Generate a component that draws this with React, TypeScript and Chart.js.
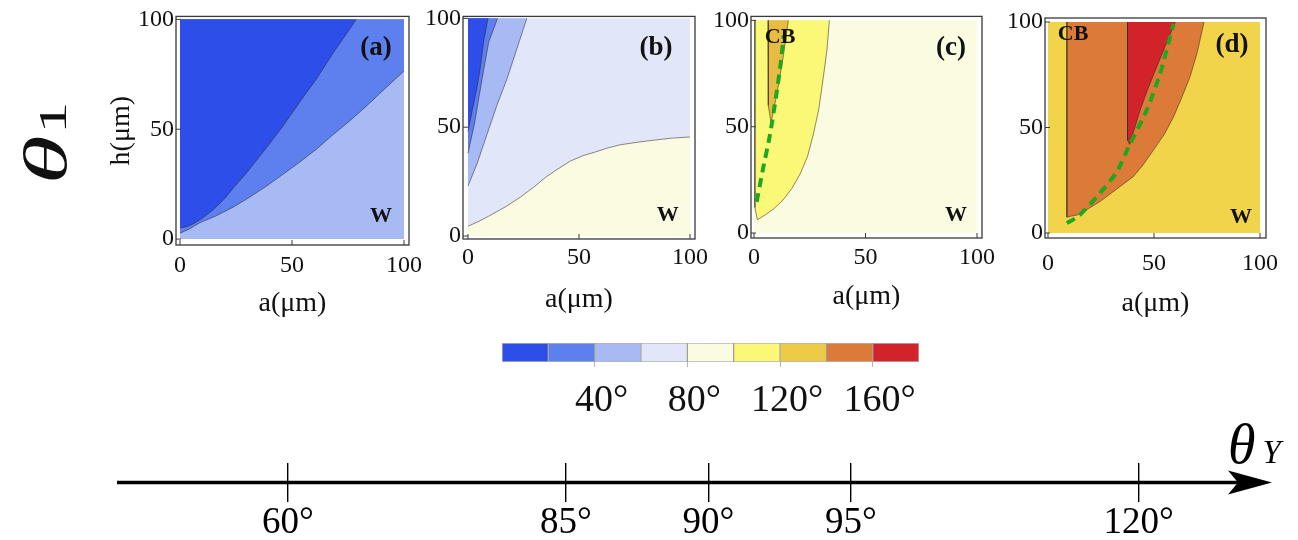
import React, { useEffect, useRef } from 'react';
import { Chart, registerables } from 'chart.js';

Chart.register(...registerables);

const SERIF = '"Liberation Serif", "DejaVu Serif", serif';

// ---------- data ----------
const binEdges = [0, 20, 40, 60, 80, 100, 120, 140, 160, 180];
const binColors = ['#2d4ee9', '#5e7fee', '#a8baf4', '#e1e7f9', '#fafbe0', '#fcf877', '#eecb47', '#dc7a38', '#d2232b'];
const colorbarTicks = [40, 80, 120, 160];
const panelTicks = [0, 50, 100];

type Pt = [number, number];

// panel (a): contour boundaries (a in µm, h in µm)
const aEdge20: Pt[] = [[0, 5.2], [3, 5.6], [6, 7], [10, 9.5], [15, 13.5], [20, 18.5], [24, 23.5], [30, 30.5], [38.5, 41.4], [46, 51.5], [53.4, 62.3], [61, 73], [68.3, 84.6], [74, 93], [78.7, 100]];
const aEdge40: Pt[] = [[0, 2.7], [4, 4.5], [9, 7.5], [16, 10.5], [23.7, 14.5], [31, 19], [38.5, 24], [46, 29.5], [53.4, 35], [61, 41], [68.3, 47.5], [76, 54], [83.2, 60.5], [91, 68], [100, 76.5]];
// panel (b)
const bEdge20: Pt[] = [[0, 48], [2, 58], [4, 68], [5.5, 77], [7, 89], [9, 100]];
const bEdge40: Pt[] = [[0, 38], [3, 52], [4.8, 63], [7, 76], [9.3, 89], [13.3, 100]];
const bEdge60: Pt[] = [[0, 23], [4, 33], [8.5, 46.5], [13, 60], [17.5, 72], [22, 86], [26.5, 100]];
const bEdge80: Pt[] = [[0, 4.5], [5, 6.8], [10, 9.5], [17, 13.5], [23.5, 17.8], [30, 22.8], [35, 27], [40, 30.5], [46, 34.4], [52, 37], [57, 38.5], [63, 40.5], [68.5, 41.9], [77, 43.2], [85, 44.2], [92, 45], [100, 45.5]];
// panel (c)
const cEdge100: Pt[] = [[0.4, 100], [0.4, 12], [1.5, 6.2], [5, 8.5], [9, 11.5], [13, 15.5], [17, 21], [20.7, 27.8], [24, 36], [26.6, 46.4], [29, 58], [31, 72.6], [32.7, 86], [33.8, 100]];
const cEdge120: Pt[] = [[6.3, 100], [6.4, 60], [7.6, 51.8], [10.2, 65], [13.2, 83.5], [15.4, 100]];
const cTransition: Pt[] = [[1.2, 14.7], [4, 30], [7.2, 46.4], [10, 65], [12, 80], [13.3, 93]];
// panel (d)
const dEdge140: Pt[] = [[8.9, 100], [8.9, 7.5], [11, 8], [13.7, 8.5], [19, 11.5], [24.6, 15], [32, 20.5], [40.3, 26.8], [45, 32.5], [49.8, 39.4], [55, 47], [59.2, 55], [63, 64], [67, 74], [70.5, 86], [73.6, 100]];
const dEdge160: Pt[] = [[37.5, 100], [37.5, 44], [38.5, 42], [43.5, 58.3], [47, 68], [51.3, 78.7], [55.5, 89], [60, 100]];
const dTransition: Pt[] = [[8.9, 4.7], [14.4, 8], [24.6, 19], [32.5, 29], [38.8, 42.5], [46.6, 58.3], [52.9, 75.6], [59.2, 99.2]];

// bottom θ_Y axis (schematic, non-linear): tick slots and labels
const thetaSlots = [0, 1.95, 2.95, 3.95, 5.97];
const thetaLabels = ['60°', '85°', '90°', '95°', '120°'];

// ---------- helpers ----------
const EDGE = 'rgba(45,40,40,0.6)';
const C_INNER = '#e8bb45';
const D_BACK = '#f1d44a';

function region(pts: Pt[], color: string, fillTo: number, edge = true) {
  return {
    data: pts.map(([x, y]) => ({ x, y })),
    fill: { value: fillTo },
    backgroundColor: color,
    borderColor: edge ? EDGE : 'rgba(0,0,0,0)',
    borderWidth: edge ? 0.9 : 0,
    pointRadius: 0,
    tension: 0,
  };
}
function background(color: string) {
  return region([[0, 100], [100, 100]], color, 0, false);
}
function dashed(pts: Pt[]) {
  return {
    data: pts.map(([x, y]) => ({ x, y })),
    fill: false,
    borderColor: '#1fa81f',
    borderWidth: 4,
    borderDash: [9, 6],
    pointRadius: 0,
    tension: 0.2,
  };
}

type TextItem = { text: string; x: number; y: number; size: number };

function framePlugin(items: TextItem[]) {
  return {
    id: 'frameAndText',
    afterDatasetsDraw(chart: any) {
      const { ctx, chartArea: a, scales } = chart;
      ctx.save();
      ctx.strokeStyle = '#3a3a3a';
      ctx.lineWidth = 1.3;
      ctx.strokeRect(a.left, a.top, a.right - a.left, a.bottom - a.top);
      ctx.lineWidth = 1;
      for (const v of panelTicks) {
        const px = scales.x.getPixelForValue(v);
        const py = scales.y.getPixelForValue(v);
        ctx.beginPath();
        ctx.moveTo(px, a.bottom);
        ctx.lineTo(px, a.bottom - 5);
        ctx.moveTo(a.left, py);
        ctx.lineTo(a.left + 5, py);
        ctx.stroke();
      }
      ctx.fillStyle = '#111';
      ctx.textAlign = 'center';
      ctx.textBaseline = 'middle';
      for (const t of items) {
        ctx.font = `bold ${t.size}px ${SERIF}`;
        ctx.fillText(t.text, scales.x.getPixelForValue(t.x), scales.y.getPixelForValue(t.y));
      }
      ctx.restore();
    },
  };
}

type PanelSpec = {
  canvasLeft: number; frameL: number; frameR: number; frameT: number; frameB: number;
  x: [number, number]; y: [number, number]; yTitle: boolean; titleY: number; tickY: number;
  datasets: any[]; texts: TextItem[];
};

const CANVAS_H = 330;

function panelConfig(p: PanelSpec): any {
  const tickFont = { family: SERIF, size: 24, lineHeight: 1.2 };
  const titleFont = { family: SERIF, size: 28, lineHeight: 1.2 };
  return {
    type: 'line',
    data: { datasets: p.datasets },
    options: {
      animation: false,
      responsive: false,
      events: [],
      layout: { padding: { left: 0, top: p.frameT, right: 30, bottom: 0 } },
      plugins: { legend: { display: false }, tooltip: { enabled: false } },
      scales: {
        x: {
          type: 'linear', min: p.x[0], max: p.x[1],
          grid: { display: false, drawTicks: false }, border: { display: false },
          ticks: { font: tickFont, color: '#111', padding: p.tickY - p.frameB - 14.4, autoSkip: false, maxRotation: 0 },
          afterBuildTicks: (s: any) => { s.ticks = panelTicks.map(v => ({ value: v })); },
          afterFit: (s: any) => { s.height = CANVAS_H - p.frameB; },
          title: { display: true, text: 'a(μm)', font: titleFont, color: '#111', padding: { top: 0, bottom: CANVAS_H - p.titleY - 16.8 } },
        },
        y: {
          type: 'linear', min: p.y[0], max: p.y[1],
          grid: { display: false, drawTicks: false }, border: { display: false },
          ticks: { font: tickFont, color: '#111', padding: 2, autoSkip: false },
          afterBuildTicks: (s: any) => { s.ticks = panelTicks.map(v => ({ value: v })); },
          afterFit: (s: any) => { s.width = p.frameL - p.canvasLeft; },
          title: p.yTitle
            ? { display: true, text: 'h(μm)', font: titleFont, color: '#111', padding: { top: 122 - p.canvasLeft - 16.8, bottom: 0 } }
            : { display: false },
        },
      },
    },
    plugins: [framePlugin(p.texts)],
  };
}

const panels: PanelSpec[] = [
  {
    canvasLeft: 95, frameL: 176, frameR: 409, frameT: 13, frameB: 245, x: [-1.79, 102.23], y: [-2.69, 101.35], yTitle: true, titleY: 304, tickY: 266,
    datasets: [region(aEdge20, binColors[0], 100), region(aEdge40, binColors[1], 100), background(binColors[2])],
    texts: [{ text: '(a)', x: 87.5, y: 87, size: 27 }, { text: 'W', x: 89.7, y: 10.3, size: 22 }],
  },
  {
    canvasLeft: 413, frameL: 463, frameR: 695, frameT: 13, frameB: 239, x: [-2.25, 102.25], y: [-1.36, 100.9], yTitle: false, titleY: 300, tickY: 258,
    datasets: [region(bEdge20, binColors[0], 100), region(bEdge40, binColors[1], 100), region(bEdge60, binColors[2], 100), region(bEdge80, binColors[4], 0), background(binColors[3])],
    texts: [{ text: '(b)', x: 84.7, y: 86.4, size: 27 }, { text: 'W', x: 90, y: 9.5, size: 22 }],
  },
  {
    canvasLeft: 701, frameL: 751, frameR: 982, frameT: 14, frameB: 238, x: [-1.35, 102.24], y: [-2.33, 101.86], yTitle: false, titleY: 297, tickY: 258,
    datasets: [dashed(cTransition), region(cEdge120, C_INNER, 100), region(cEdge100, binColors[5], 100), background(binColors[4])],
    texts: [{ text: '(c)', x: 88.3, y: 87, size: 27 }, { text: 'W', x: 90.6, y: 8.4, size: 22 }, { text: 'CB', x: 11.7, y: 92, size: 22 }],
  },
  {
    canvasLeft: 995, frameL: 1045, frameR: 1266, frameT: 18, frameB: 238, x: [-1.42, 102.83], y: [-2.37, 101.9], yTitle: false, titleY: 304, tickY: 264,
    datasets: [dashed(dTransition), region(dEdge160, binColors[8], 100), region(dEdge140, binColors[7], 100), background(D_BACK)],
    texts: [{ text: '(d)', x: 86.8, y: 89, size: 27 }, { text: 'W', x: 91, y: 7.6, size: 22 }, { text: 'CB', x: 11.8, y: 94, size: 22 }],
  },
];

function colorbarConfig(): any {
  return {
    type: 'bar',
    data: {
      labels: ['cb'],
      datasets: [{
        data: binColors.map((_, i) => ({ x: [binEdges[i], binEdges[i + 1]], y: 'cb' })),
        backgroundColor: binColors,
        borderColor: 'rgba(40,40,40,0.35)',
        borderWidth: 1,
        borderSkipped: false,
        barPercentage: 1,
        categoryPercentage: 1,
      }],
    },
    options: {
      indexAxis: 'y',
      animation: false,
      responsive: false,
      events: [],
      layout: { padding: { left: 32, right: 41, top: 13, bottom: 0 } },
      plugins: { legend: { display: false }, tooltip: { enabled: false } },
      scales: {
        x: {
          type: 'linear', min: binEdges[0], max: binEdges[binEdges.length - 1],
          grid: { display: true, drawOnChartArea: false, drawTicks: true, tickLength: 5, color: '#b5b5b5' },
          border: { display: false },
          ticks: { font: { family: SERIF, size: 38, lineHeight: 1.2 }, color: '#111', padding: 11, labelOffset: 7, autoSkip: false, maxRotation: 0, callback: (v: number) => `${v}°` },
          afterBuildTicks: (s: any) => { s.ticks = colorbarTicks.map(v => ({ value: v })); },
          afterFit: (s: any) => { s.height = 78; },
        },
        y: { type: 'category', display: false },
      },
    },
  };
}

const arrowPlugin = {
  id: 'thetaArrow',
  afterDraw(chart: any) {
    const { ctx, chartArea: a } = chart;
    const y = (a.top + a.bottom) / 2;
    ctx.save();
    ctx.strokeStyle = '#000';
    ctx.fillStyle = '#000';
    ctx.lineWidth = 3.5;
    ctx.beginPath();
    ctx.moveTo(a.left, y);
    ctx.lineTo(a.right - 20, y);
    ctx.stroke();
    ctx.beginPath();
    ctx.moveTo(a.right, y);
    ctx.lineTo(a.right - 44, y - 12);
    ctx.lineTo(a.right - 34, y);
    ctx.lineTo(a.right - 44, y + 12);
    ctx.closePath();
    ctx.fill();
    ctx.restore();
  },
};

function thetaConfig(): any {
  return {
    type: 'scatter',
    data: { datasets: [] },
    options: {
      animation: false,
      responsive: false,
      events: [],
      layout: { padding: { left: 117, right: 26, top: 43, bottom: 0 } },
      plugins: { legend: { display: false }, tooltip: { enabled: false } },
      scales: {
        x: {
          type: 'linear', min: -1.2, max: 6.905,
          grid: { display: true, drawOnChartArea: true, drawTicks: false, color: '#000', lineWidth: 1.4 },
          border: { display: false },
          ticks: { font: { family: SERIF, size: 37, lineHeight: 1.0 }, color: '#000', padding: 3, autoSkip: false, maxRotation: 0, callback: (_v: number, i: number) => thetaLabels[i] },
          afterBuildTicks: (s: any) => { s.ticks = thetaSlots.map(v => ({ value: v })); },
          afterFit: (s: any) => { s.height = 38; },
        },
        y: { type: 'linear', display: false, min: -1, max: 1 },
      },
    },
    plugins: [arrowPlugin],
  };
}

function ChartBox({ left, top, width, height, build }: { left: number; top: number; width: number; height: number; build: () => any }) {
  const ref = useRef<HTMLCanvasElement>(null);
  useEffect(() => {
    const chart = new Chart(ref.current as HTMLCanvasElement, build());
    return () => chart.destroy();
  }, []);
  return <canvas ref={ref} width={width} height={height} style={{ position: 'absolute', left, top, width, height }} />;
}

export default function App() {
  return (
    <div style={{ position: 'absolute', left: 0, top: 0, width: 1298, height: 540, background: '#fff', overflow: 'hidden' }}>
      {panels.map((p, i) => (
        <ChartBox key={i} left={p.canvasLeft} top={0} width={p.frameR + 30 - p.canvasLeft} height={CANVAS_H} build={() => panelConfig(p)} />
      ))}
      <ChartBox left={470} top={330} width={490} height={110} build={colorbarConfig} />
      <ChartBox left={0} top={420} width={1298} height={120} build={thetaConfig} />
      <div style={{ position: 'absolute', left: 45, top: 143, transform: 'translate(-50%,-50%) rotate(-90deg) scaleX(1.6)', whiteSpace: 'nowrap', fontFamily: SERIF, lineHeight: 1, color: '#111' }}>
        <span style={{ fontStyle: 'italic', fontSize: 62 }}>θ</span>
        <span style={{ fontSize: 40, marginLeft: 1 }}>1</span>
      </div>
      <div style={{ position: 'absolute', left: 1228, top: 416, whiteSpace: 'nowrap', fontFamily: SERIF, lineHeight: 1, color: '#000' }}>
        <span style={{ fontStyle: 'italic', fontSize: 56 }}>θ</span>
        <span style={{ fontStyle: 'italic', fontSize: 33, marginLeft: 7 }}>Y</span>
      </div>
    </div>
  );
}
